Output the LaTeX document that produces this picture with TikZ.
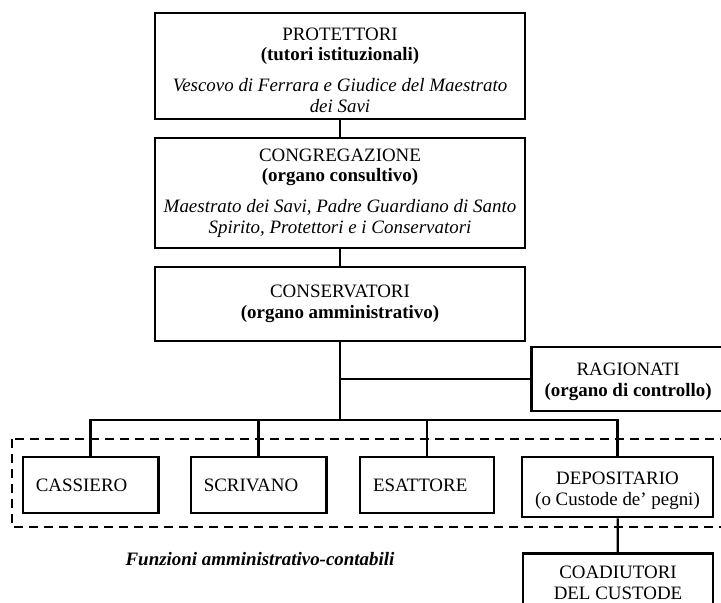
\documentclass[tikz,border=0pt]{standalone}
\usepackage{fontspec}
\setmainfont{Liberation Serif}
\usetikzlibrary{positioning}
\tikzset{
  orgbox/.style={draw, line width=2pt, align=center, inner sep=0pt},
  leftbox/.style={draw, line width=2pt, align=left, inner xsep=9.75pt, inner ysep=0pt},
  link/.style={line width=1.7pt}
}
\newcommand{\topstrut}{\rule{0pt}{15.2pt}}
\begin{document}
\begin{tikzpicture}[x=0.75pt,y=0.75pt,yscale=-1,xscale=1]
\fontsize{14.2}{15.5}\selectfont
\clip (0,0) rectangle (721,603);
\useasboundingbox (0,0) rectangle (721,603);

%Shape: Dashed frame
\draw [line width=1.5pt, dash pattern=on 6.75pt off 4.5pt] (12,439) rectangle (740,527);

% Top chain
\node [orgbox, minimum width=277.5pt, minimum height=79.5pt] (prot) at (340,66)
  {\topstrut PROTETTORI\\\textbf{(tutori istituzionali)}\\[7.5pt]\textit{Vescovo di Ferrara e Giudice del Maestrato}\\\textit{dei Savi}};
\node [orgbox, minimum width=277.5pt, minimum height=82.5pt] (congr) at (340,193)
  {CONGREGAZIONE\\\textbf{(organo consultivo)}\\[7.5pt]\textit{Maestrato dei Savi, Padre Guardiano di Santo}\\\textit{Spirito, Protettori e i Conservatori}};
\node [orgbox, minimum width=277.5pt, minimum height=55.5pt] (cons) at (340,304)
  {CONSERVATORI\\\textbf{(organo amministrativo)}};
% right side runs past the page edge
\node [orgbox, minimum height=48pt, anchor=west] (rag) at (530,379)
  {\hspace*{10pt}\begin{tabular}{@{}c@{}}\topstrut RAGIONATI\\\textbf{(organo di controllo)}\end{tabular}\hspace*{30pt}};

% Offices
\node [leftbox, text width=82pt, minimum height=42pt] (cass) at (90.5,485) {CASSIERO};
\node [leftbox, text width=82pt, minimum height=42pt] (scriv) at (258.5,485) {SCRIVANO};
\node [leftbox, text width=81pt, minimum height=42pt] (esatt) at (427,485) {ESATTORE};
\node [orgbox, minimum width=143.25pt, minimum height=45pt] (depos) at (617.5,487)
  {\topstrut DEPOSITARIO\\(o Custode de' pegni)};
\node [orgbox, minimum width=142.5pt, inner ysep=9.5pt, anchor=north] (coad) at (618,552)
  {COADIUTORI\\DEL CUSTODE};

% Text Node
\node [font=\bfseries\itshape] (funz) at (260,559) {Funzioni amministrativo-contabili};

\coordinate (bus) at (340,420);

% Connectors
\draw [link] (prot) -- (congr);
\draw [link] (congr) -- (cons);
\draw [link] (cons) -- (cons.south |- bus);
\draw [link] (cons.south |- rag.west) -- (rag.west);
\draw [link] (cass.north) -- (cass.north |- bus) -- (depos.north |- bus) -- (depos.north);
\draw [link] (scriv.north) -- (scriv.north |- bus);
\draw [link] (esatt.north) -- (esatt.north |- bus);
\draw [link] (depos) -- (coad);

\end{tikzpicture}
\end{document}
